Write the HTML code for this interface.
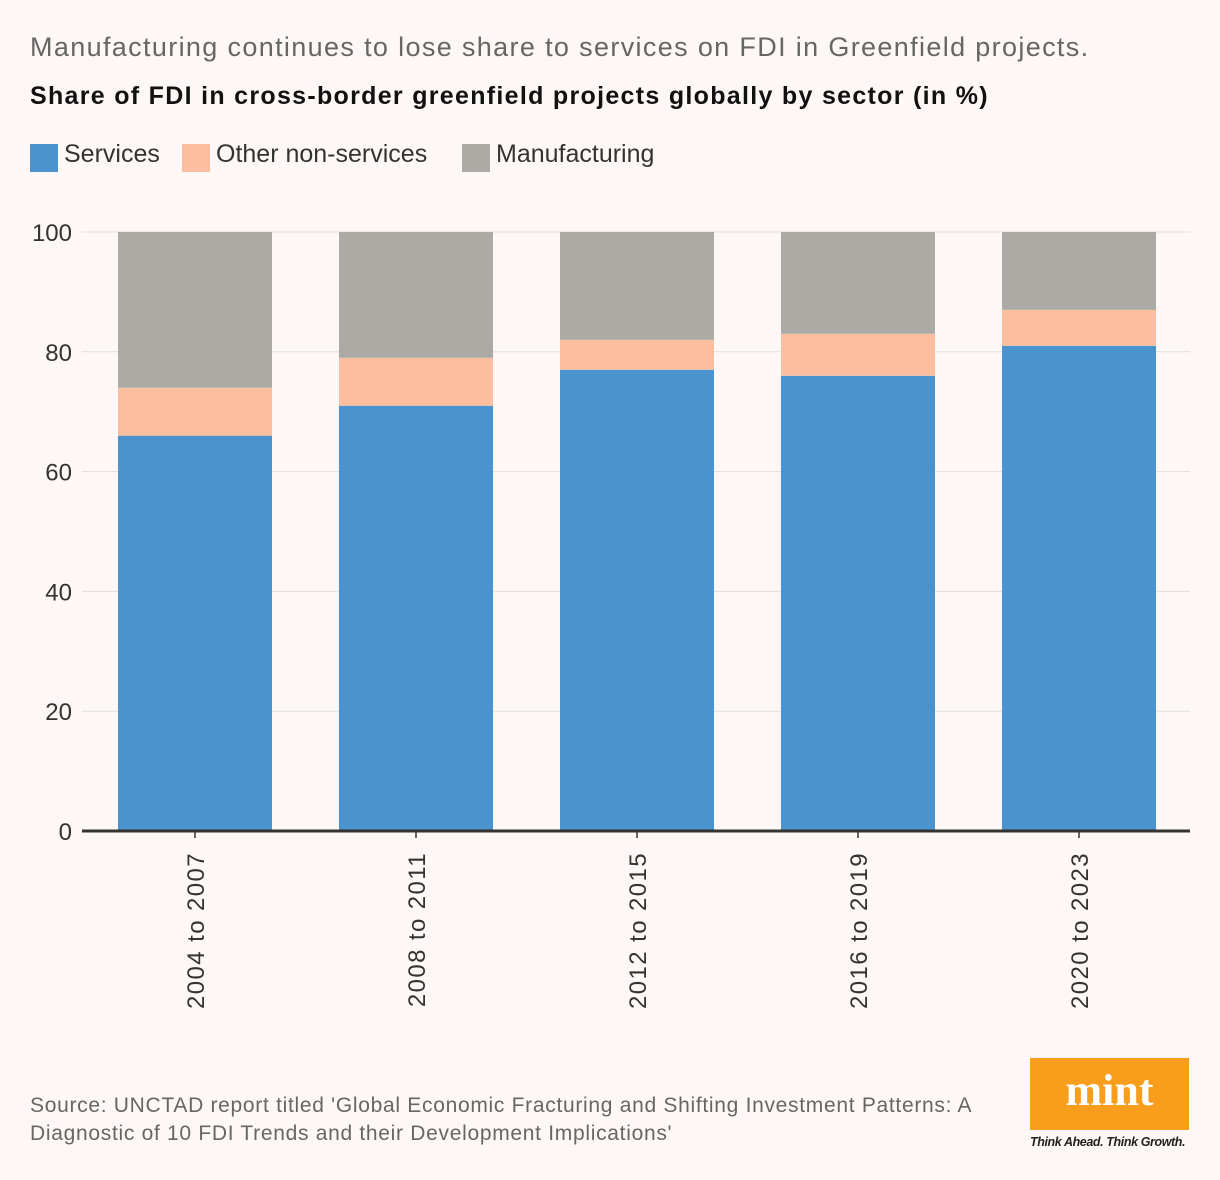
<!DOCTYPE html>
<html><head><meta charset="utf-8"><style>
body{margin:0;background:#fdf8f6;width:1220px;height:1180px;overflow:hidden;font-family:"Liberation Sans",sans-serif;position:relative}
.t{position:absolute;white-space:nowrap}
</style></head><body>
<div class="t" style="left:30px;top:32px;font-size:27px;color:#666;letter-spacing:1.35px">Manufacturing continues to lose share to services on FDI in Greenfield projects.</div>
<div class="t" style="left:30px;top:82px;font-size:25px;font-weight:bold;color:#111;letter-spacing:1.3px">Share of FDI in cross-border greenfield projects globally by sector (in %)</div>
<div style="position:absolute;left:30px;top:140px;font-size:25px;color:#333">
<span style="position:absolute;left:0;top:3px;"><span style="display:inline-block;width:28px;height:28px;background:#4b93ce;vertical-align:middle"></span></span><span class="t" style="left:34px;top:0">Services</span>
<span style="position:absolute;left:152px;top:3px;"><span style="display:inline-block;width:28px;height:28px;background:#fbbf9f;vertical-align:middle"></span></span><span class="t" style="left:186px;top:0">Other non-services</span>
<span style="position:absolute;left:432px;top:3px;"><span style="display:inline-block;width:28px;height:28px;background:#abaaa5;vertical-align:middle"></span></span><span class="t" style="left:466px;top:0">Manufacturing</span>
</div>
<svg id="chart" width="1220" height="1180" style="position:absolute;left:0;top:0"></svg>
<div class="t" style="left:30px;top:1092px;font-size:21px;line-height:28px;color:#666;letter-spacing:0.7px">Source: UNCTAD report titled 'Global Economic Fracturing and Shifting Investment Patterns: A<br>Diagnostic of 10 FDI Trends and their Development Implications'</div>
<div style="position:absolute;left:1030px;top:1058px;width:159px;height:72px;background:#f99d1c;color:#fff;font-family:'Liberation Serif',serif;font-weight:bold;font-size:44px;text-align:center;line-height:66px">mint</div>
<div class="t" style="left:1030px;top:1135px;font-size:12.5px;font-style:italic;font-weight:bold;color:#222;letter-spacing:-0.4px">Think Ahead. Think Growth.</div>
<script>
const categories=["2004 to 2007","2008 to 2011","2012 to 2015","2016 to 2019","2020 to 2023"];
const services=[66,71,77,76,81];
const otherNonServices=[8,8,5,7,6];
const manufacturing=[26,21,18,17,13];
const yTicks=[0,20,40,60,80,100];
const svg=document.getElementById('chart');const NS='http://www.w3.org/2000/svg';
const y=v=>831-v*5.99;const x=i=>118+i*221;const bw=154;
function mk(t,a){const e=document.createElementNS(NS,t);for(const k in a)e.setAttribute(k,a[k]);svg.appendChild(e);return e;}
yTicks.forEach(v=>{
 const l=mk('line',{x1:82,x2:1190,y1:y(v),y2:y(v),stroke:'#e2dfdd','stroke-width':1});
 
 
 const t=mk('text',{x:72,y:y(v)+9,'text-anchor':'end','font-size':24,fill:'#333','font-family':'Liberation Sans,sans-serif'});t.textContent=v;
 
 
});
const cols=['#4b93ce','#fbbf9f','#abaaa5'];const names=['services','other','manufacturing'];
categories.forEach((c,i)=>{
 let base=0;[services[i],otherNonServices[i],manufacturing[i]].forEach((v,s)=>{
  const r=mk('rect',{x:x(i),y:y(base+v),width:bw,height:y(base)-y(base+v),fill:cols[s]});
  
  
  base+=v;});
 const cx=x(i)+bw/2;
 mk('line',{x1:cx,x2:cx,y1:831,y2:838,stroke:'#333','stroke-width':1.5});
 const t=mk('text',{transform:`translate(${cx+9},852) rotate(-90)`,'text-anchor':'end','font-size':24,'letter-spacing':1.4,fill:'#333','font-family':'Liberation Sans,sans-serif'});t.textContent=c;
 
 
});
const ax=mk('line',{x1:82,x2:1190,y1:831,y2:831,stroke:'#333','stroke-width':3});


</script>
</body></html>
